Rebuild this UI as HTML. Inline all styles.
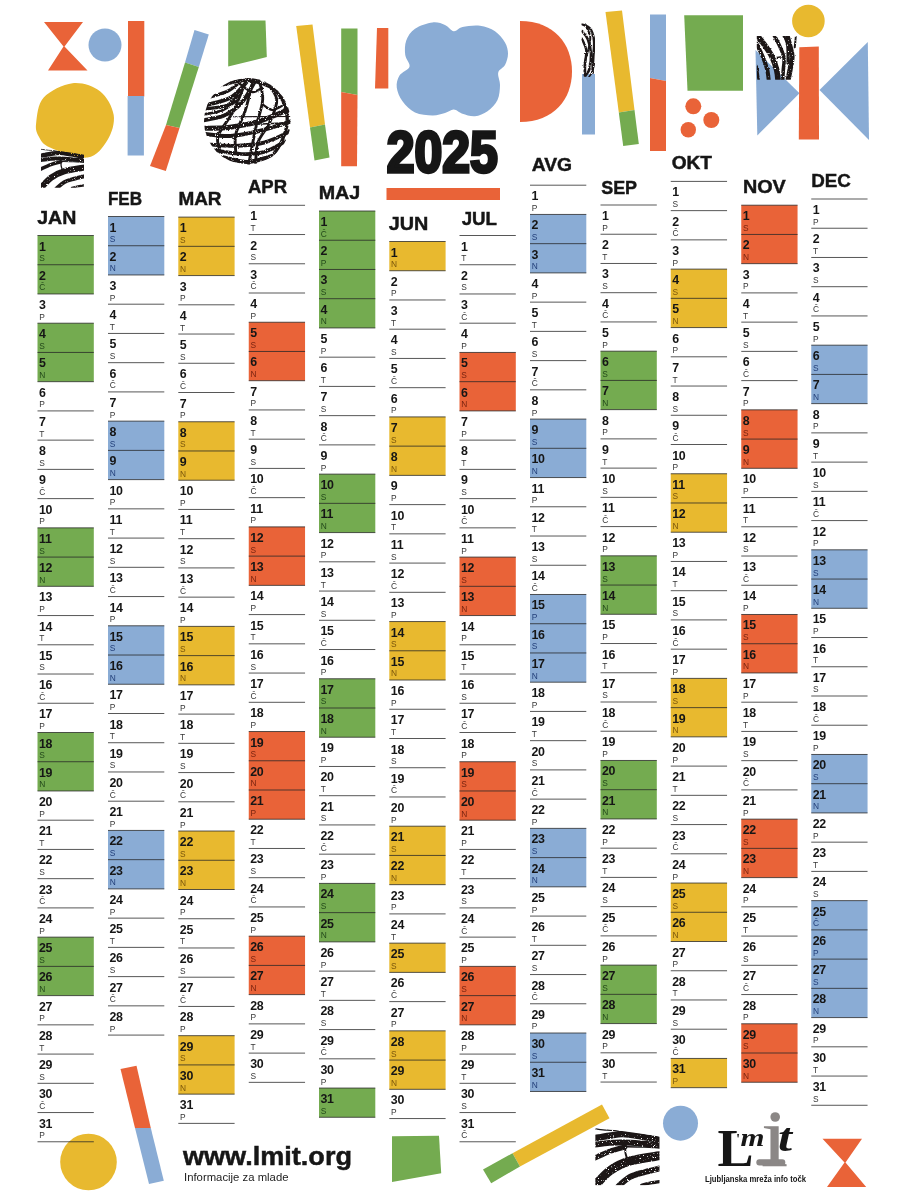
<!DOCTYPE html>
<html lang="sl">
<head>
<meta charset="utf-8">
<title>Koledar 2025 – L'MIT</title>
<style>
html,body{margin:0;padding:0;background:#fff;}
body{width:900px;height:1197px;overflow:hidden;font-family:"Liberation Sans",sans-serif;}
svg{display:block;position:absolute;left:0;top:0;}
text{font-family:"Liberation Sans",sans-serif;fill:#161616;}
.mn{font-weight:700;font-size:18.4px;stroke:#161616;stroke-width:.45px;}
.dn{font-weight:700;font-size:12.4px;letter-spacing:-0.2px;}
.wd{font-weight:400;font-size:8.4px;fill:#1a1a1a;fill-opacity:.9;}
.wo{fill:#7a2410;fill-opacity:1}.wb{fill:#24407a;fill-opacity:1}.wg{fill:#23491a;fill-opacity:1}.wy{fill:#7a560c;fill-opacity:1}
.ln{stroke:#262626;stroke-width:0.78;fill:none;}
.yr{font-weight:700;font-size:60px;}
.or{fill:#E96338}.bl{fill:#8AACD5}.gr{fill:#74AB50}.ye{fill:#E8B92F}
.sc{fill:none;stroke:#1b1718;stroke-linecap:round;stroke-linejoin:round;}
</style>
</head>
<body>
<svg width="900" height="1197" viewBox="0 0 900 1197">
<rect width="900" height="1197" fill="#fff"/>

<g id="deco-top">
<!-- hourglass -->
<path class="or" d="M44 22H83L64.5 46.5L87.5 70.5H48L63.5 46.5Z"/>
<circle class="bl" cx="105" cy="45" r="16.5"/>
<!-- vertical orange/blue bar -->
<rect class="or" x="128" y="21" width="16.3" height="75.5"/>
<rect class="bl" x="127.6" y="96" width="16.3" height="59.5"/>
<!-- yellow blob -->
<path class="ye" d="M36.2 122.5C37.07 116.08 37.65 104.05 43.7 97.5C49.75 90.95 63.12 84.25 72.5 83.2C81.88 82.15 93.13 85.9 100 91.2C106.87 96.5 112.45 106.87 113.7 115C114.95 123.13 111.87 132.92 107.5 140C103.13 147.08 97.08 156.25 87.5 157.5C77.92 158.75 58.17 151.08 50 147.5C41.83 143.92 40.8 140.17 38.5 136C36.2 131.83 35.33 128.92 36.2 122.5Z"/>
<!-- diagonal blue/green/orange bar -->
<path class="bl" d="M194.5 30L208.8 34.5L198.8 67L185 62.5Z"/>
<path class="gr" d="M185 62.5L198.8 67L179.5 128L166 125Z"/>
<path class="or" d="M166 125L179.5 128L165.8 171L150 166Z"/>
<!-- green quad -->
<path class="gr" d="M228.2 20.5H265.5L266.8 57L228.2 66.5Z"/>
<!-- yellow/green bar -->
<path class="ye" d="M296.2 26L312.5 24.5L325 124.5L310 127.5Z"/>
<path class="gr" d="M310 127.5L325 124.5L329.5 157.5L314.5 160.5Z"/>
<!-- green/orange vertical bar -->
<path class="gr" d="M341.2 28.5H357.5V95L341.2 92Z"/>
<path class="or" d="M341.2 92L357.5 95L357 166.3H341.2Z"/>
<!-- small orange bar -->
<path class="or" d="M377 28H388.3V88.5H375Z"/>
<!-- blue cloud -->
<path class="bl" d="M432.5 22.5C437.5 21.88 441.46 23.54 445 25C448.54 26.46 450.83 30.92 453.75 31.25C456.67 31.58 458.12 27.92 462.5 27C466.88 26.08 474.58 25.04 480 25.75C485.42 26.46 490.83 28.46 495 31.25C499.17 34.04 502.83 38.75 505 42.5C507.17 46.25 508 50 508 53.75C508 57.5 506.62 61.88 505 65C503.38 68.12 499.08 69.17 498.25 72.5C497.42 75.83 500.12 80.42 500 85C499.88 89.58 499.58 95.62 497.5 100C495.42 104.38 491.25 108.54 487.5 111.25C483.75 113.96 479.17 115.83 475 116.25C470.83 116.67 466.04 114.88 462.5 113.75C458.96 112.62 456.67 109.62 453.75 109.5C450.83 109.38 448.54 112 445 113C441.46 114 437.5 115.58 432.5 115.5C427.5 115.42 420 114.88 415 112.5C410 110.12 405.54 105.42 402.5 101.25C399.46 97.08 397.25 91.79 396.75 87.5C396.25 83.21 397.38 78.96 399.5 75.5C401.62 72.04 408.54 70.17 409.5 66.75C410.46 63.33 405.79 59.38 405.25 55C404.71 50.62 404.62 44.88 406.25 40.5C407.88 36.12 410.62 31.75 415 28.75C419.38 25.75 427.5 23.12 432.5 22.5Z"/>
<!-- orange D -->
<path class="or" d="M520 21C554 21 572 44 572 71.5C572 99 554 122 520 122Z"/>
<!-- scribble + blue bar -->
<rect class="bl" x="582" y="74" width="13" height="60.5"/>
<!-- yellow/green bar -->
<path class="ye" d="M605.5 12L622 10.5L634.5 110L618.8 112.5Z"/>
<path class="gr" d="M618.8 112.5L634.5 110L638.8 144L623.2 146Z"/>
<!-- blue/orange bar -->
<path class="bl" d="M650 14.5H666V81L650 78Z"/>
<path class="or" d="M650 78L666 81V151H650Z"/>
<!-- green square -->
<path class="gr" d="M684.2 15.2H743V90.8H687.5Z"/>
<!-- three dots -->
<circle class="or" cx="693.3" cy="106.3" r="8"/><circle class="or" cx="711.3" cy="120" r="8"/><circle class="or" cx="688.3" cy="129.8" r="7.7"/>
<!-- bow tie -->
<path class="bl" d="M755.5 50L799.5 93.3L757.3 135.5Z"/>
<path class="bl" d="M867.8 42L819.5 90L869 140Z"/>
<path class="or" d="M799.3 47.2L818.8 46.4L819 139.5H798.8Z"/>
<circle class="ye" cx="808.4" cy="21" r="16.3"/>
</g>

<g id="deco-bottom">
<circle class="ye" cx="88.5" cy="1162" r="28.3"/>
<path class="or" d="M120.5 1069L136.5 1065.8L150.8 1128H135Z"/>
<path class="bl" d="M135 1128H150.8L163.8 1180.8L149 1184Z"/>
<path class="gr" d="M392 1136.2L439 1135.8L441.2 1173.2L392 1182Z"/>
<path class="ye" d="M602 1104.5L609.5 1118.2L520 1166.5L512.5 1153.2Z"/>
<path class="gr" d="M512.5 1153.2L520 1166.5L491.2 1183.2L483 1169.5Z"/>
<circle class="bl" cx="680.5" cy="1123.2" r="17.5"/>
<path class="or" d="M822.5 1138.8H862L845.5 1162.5L866.2 1187H827L844.5 1162.5Z"/>
</g>

<defs><filter id="rough" x="-5%" y="-5%" width="110%" height="110%"><feTurbulence type="fractalNoise" baseFrequency="0.6" numOctaves="2" seed="3" result="n"/><feDisplacementMap in="SourceGraphic" in2="n" scale="2.2" xChannelSelector="R" yChannelSelector="G" result="d"/><feColorMatrix in="n" type="matrix" values="0 0 0 0 0 0 0 0 0 0 0 0 0 0 0 0 0 0 -9 6.9" result="h"/><feComposite in="d" in2="h" operator="in"/></filter><clipPath id="cpBall"><circle cx="247.3" cy="121.3" r="43.3"/></clipPath><clipPath id="cpSq"><path d="M0 0L100 14V89.5H0Z"/></clipPath><clipPath id="cpS3"><rect x="581.5" y="23.5" width="14" height="53.5"/></clipPath><clipPath id="cpS4"><rect x="756.8" y="36" width="40" height="43.8"/></clipPath></defs>
<g class="sc" clip-path="url(#cpBall)"><g filter="url(#rough)"><path d="M206.7 105C210.58 103.83 223.78 101.3 230 98C236.22 94.7 240.7 88.7 244 85.2C247.3 81.7 248.83 78.37 249.8 77" stroke-width="4"/><path d="M202 120.5C205.7 119.67 217.58 118.47 224.2 115.5C230.82 112.53 236.45 108.62 241.7 102.7C246.95 96.78 253.37 83.78 255.7 80" stroke-width="4"/><path d="M205 109C208.78 108.33 221.98 107.62 227.7 105C233.42 102.38 237.37 95.25 239.3 93.3" stroke-width="3.2"/><path d="M210 97C213 96 223 93.5 228 91C233 88.5 238 83.5 240 82" stroke-width="3.2"/><path d="M203 114.5C206.17 113.83 216.5 112.75 222 110.5C227.5 108.25 233.67 102.58 236 101" stroke-width="2.8"/><path d="M202 128.3C206.67 128.12 220.47 128.37 230 127.2C239.53 126.03 248.87 124.5 259.2 121.3C269.53 118.1 286.53 110.22 292 108" stroke-width="4.96"/><path d="M202 133.5C206.67 133.92 220.47 136.42 230 136C239.53 135.58 248.87 133.5 259.2 131C269.53 128.5 286.53 122.67 292 121" stroke-width="4"/><path d="M205 144.2C210.13 144.47 225.8 146.12 235.8 145.8C245.8 145.48 255.8 144.77 265 142.3C274.2 139.83 286.67 132.88 291 131" stroke-width="3.84"/><path d="M212 150C216.95 150.67 232.87 153.72 241.7 154C250.53 154.28 257.78 153.78 265 151.7C272.22 149.62 281.67 143.2 285 141.5" stroke-width="3.68"/><path d="M222 157C226.25 157.83 239.17 162.17 247.5 162C255.83 161.83 267.92 157 272 156" stroke-width="4"/><path d="M233.5 116.7L292 116.5" stroke-width="1.12"/><path d="M247.5 124.8L292 122.5" stroke-width="1.44"/><path d="M258 77C258.78 80.7 263.08 90.65 262.7 99.2C262.32 107.75 258.03 117.5 255.7 128.3C253.37 139.1 249.87 158.05 248.7 164" stroke-width="2.88"/><path d="M265 80C266.95 83.2 275.92 92.12 276.7 99.2C277.48 106.28 272.82 115.32 269.7 122.5C266.58 129.68 260.33 135.55 258 142.3C255.67 149.05 256.08 159.55 255.7 163" stroke-width="2.88"/><path d="M270.8 83C272.95 86.28 280.97 96.12 283.7 102.7C286.43 109.28 287.6 115.9 287.2 122.5C286.8 129.1 284.03 136.38 281.3 142.3C278.57 148.22 272.55 155.38 270.8 158" stroke-width="3.36"/><path d="M253.3 79C251.95 84.3 248.12 101.6 245.2 110.8C242.28 120 237.37 127.17 235.8 134.2C234.23 141.23 235.8 149.87 235.8 153" stroke-width="2.88"/><path d="M246.3 80C244.17 85.13 238.17 101.58 233.5 110.8C228.83 120.02 220.63 128.77 218.3 135.3C215.97 141.83 219.3 147.55 219.5 150" stroke-width="2.88"/><path d="M219 86C222.78 85.08 234.82 81.03 241.7 80.5C248.58 79.97 254.08 81.05 260.3 82.8C266.52 84.55 275.88 89.63 279 91" stroke-width="3.36"/><path d="M276 92C278.17 93.83 286.33 99.67 289 103C291.67 106.33 291.5 110.5 292 112" stroke-width="2.88"/><path d="M240 84C242 85.33 248.33 91.33 252 92C255.67 92.67 260.33 88.67 262 88" stroke-width="2.4"/><path d="M262 104C263.67 105 268.67 109.67 272 110C275.33 110.33 280.33 106.67 282 106" stroke-width="2.08"/></g></g>
<g class="sc" transform="translate(40.9 148.2) scale(0.431 0.443)"><g clip-path="url(#cpSq)"><g filter="url(#rough)"><path d="M0 2.3C3 2.67 12 3.98 18 4.5C24 5.02 33 5.25 36 5.4" stroke-width="2"/><path d="M-2 17C2 16.33 14.5 14.08 22 13C29.5 11.92 35 10.33 43 10.5C51 10.67 60.17 12.42 70 14C79.83 15.58 96.67 19 102 20" stroke-width="10"/><path d="M-2 27C2 26.5 14.5 24.58 22 24C29.5 23.42 35 23.33 43 23.5C51 23.67 60.17 24.25 70 25C79.83 25.75 96.67 27.5 102 28" stroke-width="9"/><path d="M-2 48C2.17 46.17 15 39.92 23 37C31 34.08 42.17 31.58 46 30.5" stroke-width="8"/><path d="M44 30C49.17 30.08 65.33 30.17 75 30.5C84.67 30.83 97.5 31.75 102 32" stroke-width="2.5"/><path d="M46.5 30C46.58 31.67 46.48 36.83 47 40C47.52 43.17 49.17 47.5 49.6 49" stroke-width="3"/><path d="M-1 91C3 87 13.83 73.5 23 67C32.17 60.5 40.83 55.92 54 52C67.17 48.08 94 44.92 102 43.5" stroke-width="14"/><path d="M36 91C39 88.62 47.08 80.37 54 76.7C60.92 73.03 69.83 71.2 77.5 69C85.17 66.8 96.25 64.42 100 63.5" stroke-width="9"/><path d="M72 89.5C74 89 79.33 87.42 84 86.5C88.67 85.58 97.33 84.42 100 84" stroke-width="5"/></g></g></g>
<g class="sc" transform="translate(595.2 1127.3) scale(0.645 0.647)"><g clip-path="url(#cpSq)"><g filter="url(#rough)"><path d="M0 2.3C3 2.67 12 3.98 18 4.5C24 5.02 33 5.25 36 5.4" stroke-width="2"/><path d="M-2 17C2 16.33 14.5 14.08 22 13C29.5 11.92 35 10.33 43 10.5C51 10.67 60.17 12.42 70 14C79.83 15.58 96.67 19 102 20" stroke-width="10"/><path d="M-2 27C2 26.5 14.5 24.58 22 24C29.5 23.42 35 23.33 43 23.5C51 23.67 60.17 24.25 70 25C79.83 25.75 96.67 27.5 102 28" stroke-width="9"/><path d="M-2 48C2.17 46.17 15 39.92 23 37C31 34.08 42.17 31.58 46 30.5" stroke-width="8"/><path d="M44 30C49.17 30.08 65.33 30.17 75 30.5C84.67 30.83 97.5 31.75 102 32" stroke-width="2.5"/><path d="M46.5 30C46.58 31.67 46.48 36.83 47 40C47.52 43.17 49.17 47.5 49.6 49" stroke-width="3"/><path d="M-1 91C3 87 13.83 73.5 23 67C32.17 60.5 40.83 55.92 54 52C67.17 48.08 94 44.92 102 43.5" stroke-width="14"/><path d="M36 91C39 88.62 47.08 80.37 54 76.7C60.92 73.03 69.83 71.2 77.5 69C85.17 66.8 96.25 64.42 100 63.5" stroke-width="9"/><path d="M72 89.5C74 89 79.33 87.42 84 86.5C88.67 85.58 97.33 84.42 100 84" stroke-width="5"/></g></g></g>
<g class="sc" clip-path="url(#cpS3)"><g filter="url(#rough)"><path d="M582 24.2C583.37 24.95 588.18 25.88 590.2 28.7C592.22 31.52 593.58 36.43 594.1 41.1C594.62 45.77 593.57 51.52 593.3 56.7C593.03 61.88 592.63 69.62 592.5 72.2" stroke-width="2.6"/><path d="M582 31C582.98 32.42 586.4 35.75 587.9 39.5C589.4 43.25 590.75 48.57 591 53.5C591.25 58.43 590.3 65.43 589.4 69.1C588.5 72.77 586.23 74.43 585.6 75.5" stroke-width="2.6"/><path d="M582 38.8C582.72 40.73 585.83 46.13 586.3 50.4C586.77 54.67 585.05 60.22 584.8 64.4C584.55 68.58 584.8 73.65 584.8 75.5" stroke-width="2.4"/><path d="M585.6 24.8C586.37 26.73 589.68 32.52 590.2 36.4C590.72 40.28 589.47 44.2 588.7 48.1C587.93 52 586.18 55.78 585.6 59.8C585.02 63.82 585.27 70.13 585.2 72.2" stroke-width="2"/><path d="M594.3 63.7C594 64.98 593.43 69.1 592.5 71.4C591.57 73.7 589.33 76.48 588.7 77.5" stroke-width="1.6"/></g></g>
<g class="sc" clip-path="url(#cpS4)"><g filter="url(#rough)"><path d="M755 33C756.38 34.72 760.47 39.35 763.3 43.3C766.13 47.25 769.77 52.25 772 56.7C774.23 61.15 775.67 65.78 776.7 70C777.73 74.22 777.95 80 778.2 82" stroke-width="5.6"/><path d="M756.5 43.5C757.63 45.92 761.5 53.58 763.3 58C765.1 62.42 766.37 66 767.3 70C768.23 74 768.63 80 768.9 82" stroke-width="4"/><path d="M756.7 66L758.9 82" stroke-width="2.5"/><path d="M773 33C774.17 35.28 778.17 42.53 780 46.7C781.83 50.87 783.45 54.12 784 58C784.55 61.88 783.55 66 783.3 70C783.05 74 782.63 80 782.5 82" stroke-width="3.6"/><path d="M781.8 33C782.72 34.72 786.27 38.25 787.3 43.3C788.33 48.35 787.88 59.97 788 63.3" stroke-width="3"/><path d="M786.3 33C786.92 35.28 789.05 42.75 790 46.7C790.95 50.65 792 52.82 792 56.7C792 60.58 790.73 65.78 790 70C789.27 74.22 788 80 787.6 82" stroke-width="5.2"/><path d="M796.3 33L794.7 47.3" stroke-width="2"/><path d="M775.3 57.7L782 56.7" stroke-width="1.5"/></g></g>
<g id="title">
<text class="yr" x="386.8" y="172.3" textLength="111" lengthAdjust="spacingAndGlyphs" stroke="#161616" stroke-width="3.4" stroke-linejoin="miter" style="font-size:56.8px">2025</text>
<rect class="or" x="386.5" y="188" width="113.5" height="12"/>
</g>

<g class="month" id="m1">
<text class="mn" x="37.2" y="223.75" textLength="39.1" lengthAdjust="spacingAndGlyphs">JAN</text>
<rect x="37.5" y="235.5" width="56.3" height="58.47" fill="#74AB50"/>
<rect x="37.5" y="323.2" width="56.3" height="58.47" fill="#74AB50"/>
<rect x="37.5" y="527.85" width="56.3" height="58.47" fill="#74AB50"/>
<rect x="37.5" y="732.5" width="56.3" height="58.47" fill="#74AB50"/>
<rect x="37.5" y="937.14" width="56.3" height="58.47" fill="#74AB50"/>
<path class="ln" d="M37.5 235.5h56.3M37.5 264.74h56.3M37.5 293.97h56.3M37.5 323.2h56.3M37.5 352.44h56.3M37.5 381.68h56.3M37.5 410.91h56.3M37.5 440.14h56.3M37.5 469.38h56.3M37.5 498.62h56.3M37.5 527.85h56.3M37.5 557.09h56.3M37.5 586.32h56.3M37.5 615.56h56.3M37.5 644.79h56.3M37.5 674.02h56.3M37.5 703.26h56.3M37.5 732.5h56.3M37.5 761.73h56.3M37.5 790.97h56.3M37.5 820.2h56.3M37.5 849.43h56.3M37.5 878.67h56.3M37.5 907.9h56.3M37.5 937.14h56.3M37.5 966.38h56.3M37.5 995.61h56.3M37.5 1024.85h56.3M37.5 1054.08h56.3M37.5 1083.32h56.3M37.5 1112.55h56.3M37.5 1141.78h56.3"/>
<text class="dn" x="38.9" y="250.5">1</text><text class="wd wg" x="39.2" y="261.2">S</text>
<text class="dn" x="38.9" y="279.74">2</text><text class="wd wg" x="39.2" y="290.44">Č</text>
<text class="dn" x="38.9" y="308.97">3</text><text class="wd" x="39.2" y="319.67">P</text>
<text class="dn" x="38.9" y="338.2">4</text><text class="wd wg" x="39.2" y="348.9">S</text>
<text class="dn" x="38.9" y="367.44">5</text><text class="wd wg" x="39.2" y="378.14">N</text>
<text class="dn" x="38.9" y="396.68">6</text><text class="wd" x="39.2" y="407.38">P</text>
<text class="dn" x="38.9" y="425.91">7</text><text class="wd" x="39.2" y="436.61">T</text>
<text class="dn" x="38.9" y="455.14">8</text><text class="wd" x="39.2" y="465.84">S</text>
<text class="dn" x="38.9" y="484.38">9</text><text class="wd" x="39.2" y="495.08">Č</text>
<text class="dn" x="38.9" y="513.62">10</text><text class="wd" x="39.2" y="524.32">P</text>
<text class="dn" x="38.9" y="542.85">11</text><text class="wd wg" x="39.2" y="553.55">S</text>
<text class="dn" x="38.9" y="572.09">12</text><text class="wd wg" x="39.2" y="582.79">N</text>
<text class="dn" x="38.9" y="601.32">13</text><text class="wd" x="39.2" y="612.02">P</text>
<text class="dn" x="38.9" y="630.56">14</text><text class="wd" x="39.2" y="641.26">T</text>
<text class="dn" x="38.9" y="659.79">15</text><text class="wd" x="39.2" y="670.49">S</text>
<text class="dn" x="38.9" y="689.02">16</text><text class="wd" x="39.2" y="699.73">Č</text>
<text class="dn" x="38.9" y="718.26">17</text><text class="wd" x="39.2" y="728.96">P</text>
<text class="dn" x="38.9" y="747.5">18</text><text class="wd wg" x="39.2" y="758.2">S</text>
<text class="dn" x="38.9" y="776.73">19</text><text class="wd wg" x="39.2" y="787.43">N</text>
<text class="dn" x="38.9" y="805.97">20</text><text class="wd" x="39.2" y="816.67">P</text>
<text class="dn" x="38.9" y="835.2">21</text><text class="wd" x="39.2" y="845.9">T</text>
<text class="dn" x="38.9" y="864.43">22</text><text class="wd" x="39.2" y="875.13">S</text>
<text class="dn" x="38.9" y="893.67">23</text><text class="wd" x="39.2" y="904.37">Č</text>
<text class="dn" x="38.9" y="922.9">24</text><text class="wd" x="39.2" y="933.61">P</text>
<text class="dn" x="38.9" y="952.14">25</text><text class="wd wg" x="39.2" y="962.84">S</text>
<text class="dn" x="38.9" y="981.38">26</text><text class="wd wg" x="39.2" y="992.08">N</text>
<text class="dn" x="38.9" y="1010.61">27</text><text class="wd" x="39.2" y="1021.31">P</text>
<text class="dn" x="38.9" y="1039.85">28</text><text class="wd" x="39.2" y="1050.55">T</text>
<text class="dn" x="38.9" y="1069.08">29</text><text class="wd" x="39.2" y="1079.78">S</text>
<text class="dn" x="38.9" y="1098.32">30</text><text class="wd" x="39.2" y="1109.02">Č</text>
<text class="dn" x="38.9" y="1127.55">31</text><text class="wd" x="39.2" y="1138.25">P</text>
</g>
<g class="month" id="m2">
<text class="mn" x="107.95" y="204.5" textLength="34.1" lengthAdjust="spacingAndGlyphs">FEB</text>
<rect x="108" y="216.5" width="56.3" height="58.47" fill="#8AACD5"/>
<rect x="108" y="421.14" width="56.3" height="58.47" fill="#8AACD5"/>
<rect x="108" y="625.79" width="56.3" height="58.47" fill="#8AACD5"/>
<rect x="108" y="830.43" width="56.3" height="58.47" fill="#8AACD5"/>
<path class="ln" d="M108 216.5h56.3M108 245.74h56.3M108 274.97h56.3M108 304.2h56.3M108 333.44h56.3M108 362.68h56.3M108 391.91h56.3M108 421.14h56.3M108 450.38h56.3M108 479.62h56.3M108 508.85h56.3M108 538.09h56.3M108 567.32h56.3M108 596.56h56.3M108 625.79h56.3M108 655.02h56.3M108 684.26h56.3M108 713.5h56.3M108 742.73h56.3M108 771.97h56.3M108 801.2h56.3M108 830.43h56.3M108 859.67h56.3M108 888.9h56.3M108 918.14h56.3M108 947.38h56.3M108 976.61h56.3M108 1005.85h56.3M108 1035.08h56.3"/>
<text class="dn" x="109.4" y="231.5">1</text><text class="wd wb" x="109.7" y="242.2">S</text>
<text class="dn" x="109.4" y="260.74">2</text><text class="wd wb" x="109.7" y="271.44">N</text>
<text class="dn" x="109.4" y="289.97">3</text><text class="wd" x="109.7" y="300.67">P</text>
<text class="dn" x="109.4" y="319.2">4</text><text class="wd" x="109.7" y="329.9">T</text>
<text class="dn" x="109.4" y="348.44">5</text><text class="wd" x="109.7" y="359.14">S</text>
<text class="dn" x="109.4" y="377.68">6</text><text class="wd" x="109.7" y="388.38">Č</text>
<text class="dn" x="109.4" y="406.91">7</text><text class="wd" x="109.7" y="417.61">P</text>
<text class="dn" x="109.4" y="436.14">8</text><text class="wd wb" x="109.7" y="446.84">S</text>
<text class="dn" x="109.4" y="465.38">9</text><text class="wd wb" x="109.7" y="476.08">N</text>
<text class="dn" x="109.4" y="494.62">10</text><text class="wd" x="109.7" y="505.31">P</text>
<text class="dn" x="109.4" y="523.85">11</text><text class="wd" x="109.7" y="534.55">T</text>
<text class="dn" x="109.4" y="553.09">12</text><text class="wd" x="109.7" y="563.79">S</text>
<text class="dn" x="109.4" y="582.32">13</text><text class="wd" x="109.7" y="593.02">Č</text>
<text class="dn" x="109.4" y="611.56">14</text><text class="wd" x="109.7" y="622.26">P</text>
<text class="dn" x="109.4" y="640.79">15</text><text class="wd wb" x="109.7" y="651.49">S</text>
<text class="dn" x="109.4" y="670.02">16</text><text class="wd wb" x="109.7" y="680.73">N</text>
<text class="dn" x="109.4" y="699.26">17</text><text class="wd" x="109.7" y="709.96">P</text>
<text class="dn" x="109.4" y="728.5">18</text><text class="wd" x="109.7" y="739.2">T</text>
<text class="dn" x="109.4" y="757.73">19</text><text class="wd" x="109.7" y="768.43">S</text>
<text class="dn" x="109.4" y="786.97">20</text><text class="wd" x="109.7" y="797.67">Č</text>
<text class="dn" x="109.4" y="816.2">21</text><text class="wd" x="109.7" y="826.9">P</text>
<text class="dn" x="109.4" y="845.43">22</text><text class="wd wb" x="109.7" y="856.13">S</text>
<text class="dn" x="109.4" y="874.67">23</text><text class="wd wb" x="109.7" y="885.37">N</text>
<text class="dn" x="109.4" y="903.9">24</text><text class="wd" x="109.7" y="914.61">P</text>
<text class="dn" x="109.4" y="933.14">25</text><text class="wd" x="109.7" y="943.84">T</text>
<text class="dn" x="109.4" y="962.38">26</text><text class="wd" x="109.7" y="973.08">S</text>
<text class="dn" x="109.4" y="991.61">27</text><text class="wd" x="109.7" y="1002.31">Č</text>
<text class="dn" x="109.4" y="1020.85">28</text><text class="wd" x="109.7" y="1031.55">P</text>
</g>
<g class="month" id="m3">
<text class="mn" x="178.45" y="205" textLength="43.1" lengthAdjust="spacingAndGlyphs">MAR</text>
<rect x="178.3" y="217.1" width="56.3" height="58.47" fill="#E8B92F"/>
<rect x="178.3" y="421.75" width="56.3" height="58.47" fill="#E8B92F"/>
<rect x="178.3" y="626.39" width="56.3" height="58.47" fill="#E8B92F"/>
<rect x="178.3" y="831.03" width="56.3" height="58.47" fill="#E8B92F"/>
<rect x="178.3" y="1035.68" width="56.3" height="58.47" fill="#E8B92F"/>
<path class="ln" d="M178.3 217.1h56.3M178.3 246.33h56.3M178.3 275.57h56.3M178.3 304.81h56.3M178.3 334.04h56.3M178.3 363.27h56.3M178.3 392.51h56.3M178.3 421.75h56.3M178.3 450.98h56.3M178.3 480.22h56.3M178.3 509.45h56.3M178.3 538.68h56.3M178.3 567.92h56.3M178.3 597.15h56.3M178.3 626.39h56.3M178.3 655.62h56.3M178.3 684.86h56.3M178.3 714.1h56.3M178.3 743.33h56.3M178.3 772.57h56.3M178.3 801.8h56.3M178.3 831.03h56.3M178.3 860.27h56.3M178.3 889.5h56.3M178.3 918.74h56.3M178.3 947.98h56.3M178.3 977.21h56.3M178.3 1006.45h56.3M178.3 1035.68h56.3M178.3 1064.91h56.3M178.3 1094.15h56.3M178.3 1123.38h56.3"/>
<text class="dn" x="179.7" y="232.1">1</text><text class="wd wy" x="180" y="242.8">S</text>
<text class="dn" x="179.7" y="261.33">2</text><text class="wd wy" x="180" y="272.03">N</text>
<text class="dn" x="179.7" y="290.57">3</text><text class="wd" x="180" y="301.27">P</text>
<text class="dn" x="179.7" y="319.81">4</text><text class="wd" x="180" y="330.5">T</text>
<text class="dn" x="179.7" y="349.04">5</text><text class="wd" x="180" y="359.74">S</text>
<text class="dn" x="179.7" y="378.27">6</text><text class="wd" x="180" y="388.97">Č</text>
<text class="dn" x="179.7" y="407.51">7</text><text class="wd" x="180" y="418.21">P</text>
<text class="dn" x="179.7" y="436.75">8</text><text class="wd wy" x="180" y="447.44">S</text>
<text class="dn" x="179.7" y="465.98">9</text><text class="wd wy" x="180" y="476.68">N</text>
<text class="dn" x="179.7" y="495.22">10</text><text class="wd" x="180" y="505.92">P</text>
<text class="dn" x="179.7" y="524.45">11</text><text class="wd" x="180" y="535.15">T</text>
<text class="dn" x="179.7" y="553.68">12</text><text class="wd" x="180" y="564.38">S</text>
<text class="dn" x="179.7" y="582.92">13</text><text class="wd" x="180" y="593.62">Č</text>
<text class="dn" x="179.7" y="612.15">14</text><text class="wd" x="180" y="622.86">P</text>
<text class="dn" x="179.7" y="641.39">15</text><text class="wd wy" x="180" y="652.09">S</text>
<text class="dn" x="179.7" y="670.62">16</text><text class="wd wy" x="180" y="681.33">N</text>
<text class="dn" x="179.7" y="699.86">17</text><text class="wd" x="180" y="710.56">P</text>
<text class="dn" x="179.7" y="729.1">18</text><text class="wd" x="180" y="739.8">T</text>
<text class="dn" x="179.7" y="758.33">19</text><text class="wd" x="180" y="769.03">S</text>
<text class="dn" x="179.7" y="787.57">20</text><text class="wd" x="180" y="798.27">Č</text>
<text class="dn" x="179.7" y="816.8">21</text><text class="wd" x="180" y="827.5">P</text>
<text class="dn" x="179.7" y="846.03">22</text><text class="wd wy" x="180" y="856.74">S</text>
<text class="dn" x="179.7" y="875.27">23</text><text class="wd wy" x="180" y="885.97">N</text>
<text class="dn" x="179.7" y="904.5">24</text><text class="wd" x="180" y="915.21">P</text>
<text class="dn" x="179.7" y="933.74">25</text><text class="wd" x="180" y="944.44">T</text>
<text class="dn" x="179.7" y="962.98">26</text><text class="wd" x="180" y="973.68">S</text>
<text class="dn" x="179.7" y="992.21">27</text><text class="wd" x="180" y="1002.91">Č</text>
<text class="dn" x="179.7" y="1021.45">28</text><text class="wd" x="180" y="1032.14">P</text>
<text class="dn" x="179.7" y="1050.68">29</text><text class="wd wy" x="180" y="1061.38">S</text>
<text class="dn" x="179.7" y="1079.91">30</text><text class="wd wy" x="180" y="1090.62">N</text>
<text class="dn" x="179.7" y="1109.15">31</text><text class="wd" x="180" y="1119.85">P</text>
</g>
<g class="month" id="m4">
<text class="mn" x="247.95" y="193.2" textLength="39.1" lengthAdjust="spacingAndGlyphs">APR</text>
<rect x="248.75" y="322.24" width="56.3" height="58.47" fill="#E96338"/>
<rect x="248.75" y="526.88" width="56.3" height="58.47" fill="#E96338"/>
<rect x="248.75" y="731.53" width="56.3" height="87.7" fill="#E96338"/>
<rect x="248.75" y="936.17" width="56.3" height="58.47" fill="#E96338"/>
<path class="ln" d="M248.75 205.3h56.3M248.75 234.54h56.3M248.75 263.77h56.3M248.75 293h56.3M248.75 322.24h56.3M248.75 351.48h56.3M248.75 380.71h56.3M248.75 409.94h56.3M248.75 439.18h56.3M248.75 468.42h56.3M248.75 497.65h56.3M248.75 526.88h56.3M248.75 556.12h56.3M248.75 585.36h56.3M248.75 614.59h56.3M248.75 643.83h56.3M248.75 673.06h56.3M248.75 702.3h56.3M248.75 731.53h56.3M248.75 760.77h56.3M248.75 790h56.3M248.75 819.23h56.3M248.75 848.47h56.3M248.75 877.7h56.3M248.75 906.94h56.3M248.75 936.17h56.3M248.75 965.41h56.3M248.75 994.64h56.3M248.75 1023.88h56.3M248.75 1053.12h56.3M248.75 1082.35h56.3"/>
<text class="dn" x="250.15" y="220.3">1</text><text class="wd" x="250.45" y="231">T</text>
<text class="dn" x="250.15" y="249.54">2</text><text class="wd" x="250.45" y="260.24">S</text>
<text class="dn" x="250.15" y="278.77">3</text><text class="wd" x="250.45" y="289.47">Č</text>
<text class="dn" x="250.15" y="308">4</text><text class="wd" x="250.45" y="318.7">P</text>
<text class="dn" x="250.15" y="337.24">5</text><text class="wd wo" x="250.45" y="347.94">S</text>
<text class="dn" x="250.15" y="366.48">6</text><text class="wd wo" x="250.45" y="377.18">N</text>
<text class="dn" x="250.15" y="395.71">7</text><text class="wd" x="250.45" y="406.41">P</text>
<text class="dn" x="250.15" y="424.94">8</text><text class="wd" x="250.45" y="435.64">T</text>
<text class="dn" x="250.15" y="454.18">9</text><text class="wd" x="250.45" y="464.88">S</text>
<text class="dn" x="250.15" y="483.42">10</text><text class="wd" x="250.45" y="494.12">Č</text>
<text class="dn" x="250.15" y="512.65">11</text><text class="wd" x="250.45" y="523.35">P</text>
<text class="dn" x="250.15" y="541.88">12</text><text class="wd wo" x="250.45" y="552.59">S</text>
<text class="dn" x="250.15" y="571.12">13</text><text class="wd wo" x="250.45" y="581.82">N</text>
<text class="dn" x="250.15" y="600.36">14</text><text class="wd" x="250.45" y="611.06">P</text>
<text class="dn" x="250.15" y="629.59">15</text><text class="wd" x="250.45" y="640.29">T</text>
<text class="dn" x="250.15" y="658.83">16</text><text class="wd" x="250.45" y="669.53">S</text>
<text class="dn" x="250.15" y="688.06">17</text><text class="wd" x="250.45" y="698.76">Č</text>
<text class="dn" x="250.15" y="717.3">18</text><text class="wd" x="250.45" y="728">P</text>
<text class="dn" x="250.15" y="746.53">19</text><text class="wd wo" x="250.45" y="757.23">S</text>
<text class="dn" x="250.15" y="775.77">20</text><text class="wd wo" x="250.45" y="786.47">N</text>
<text class="dn" x="250.15" y="805">21</text><text class="wd wo" x="250.45" y="815.7">P</text>
<text class="dn" x="250.15" y="834.23">22</text><text class="wd" x="250.45" y="844.93">T</text>
<text class="dn" x="250.15" y="863.47">23</text><text class="wd" x="250.45" y="874.17">S</text>
<text class="dn" x="250.15" y="892.7">24</text><text class="wd" x="250.45" y="903.4">Č</text>
<text class="dn" x="250.15" y="921.94">25</text><text class="wd" x="250.45" y="932.64">P</text>
<text class="dn" x="250.15" y="951.17">26</text><text class="wd wo" x="250.45" y="961.88">S</text>
<text class="dn" x="250.15" y="980.41">27</text><text class="wd wo" x="250.45" y="991.11">N</text>
<text class="dn" x="250.15" y="1009.64">28</text><text class="wd" x="250.45" y="1020.35">P</text>
<text class="dn" x="250.15" y="1038.88">29</text><text class="wd" x="250.45" y="1049.58">T</text>
<text class="dn" x="250.15" y="1068.12">30</text><text class="wd" x="250.45" y="1078.82">S</text>
</g>
<g class="month" id="m5">
<text class="mn" x="318.7" y="198.75" textLength="41.6" lengthAdjust="spacingAndGlyphs">MAJ</text>
<rect x="319" y="211" width="56.3" height="116.94" fill="#74AB50"/>
<rect x="319" y="474.12" width="56.3" height="58.47" fill="#74AB50"/>
<rect x="319" y="678.76" width="56.3" height="58.47" fill="#74AB50"/>
<rect x="319" y="883.4" width="56.3" height="58.47" fill="#74AB50"/>
<rect x="319" y="1088.05" width="56.3" height="29.23" fill="#74AB50"/>
<path class="ln" d="M319 211h56.3M319 240.24h56.3M319 269.47h56.3M319 298.7h56.3M319 327.94h56.3M319 357.18h56.3M319 386.41h56.3M319 415.64h56.3M319 444.88h56.3M319 474.12h56.3M319 503.35h56.3M319 532.59h56.3M319 561.82h56.3M319 591.06h56.3M319 620.29h56.3M319 649.52h56.3M319 678.76h56.3M319 708h56.3M319 737.23h56.3M319 766.47h56.3M319 795.7h56.3M319 824.93h56.3M319 854.17h56.3M319 883.4h56.3M319 912.64h56.3M319 941.88h56.3M319 971.11h56.3M319 1000.35h56.3M319 1029.58h56.3M319 1058.82h56.3M319 1088.05h56.3M319 1117.28h56.3"/>
<text class="dn" x="320.4" y="226">1</text><text class="wd wg" x="320.7" y="236.7">Č</text>
<text class="dn" x="320.4" y="255.24">2</text><text class="wd wg" x="320.7" y="265.94">P</text>
<text class="dn" x="320.4" y="284.47">3</text><text class="wd wg" x="320.7" y="295.17">S</text>
<text class="dn" x="320.4" y="313.7">4</text><text class="wd wg" x="320.7" y="324.4">N</text>
<text class="dn" x="320.4" y="342.94">5</text><text class="wd" x="320.7" y="353.64">P</text>
<text class="dn" x="320.4" y="372.18">6</text><text class="wd" x="320.7" y="382.88">T</text>
<text class="dn" x="320.4" y="401.41">7</text><text class="wd" x="320.7" y="412.11">S</text>
<text class="dn" x="320.4" y="430.64">8</text><text class="wd" x="320.7" y="441.34">Č</text>
<text class="dn" x="320.4" y="459.88">9</text><text class="wd" x="320.7" y="470.58">P</text>
<text class="dn" x="320.4" y="489.12">10</text><text class="wd wg" x="320.7" y="499.81">S</text>
<text class="dn" x="320.4" y="518.35">11</text><text class="wd wg" x="320.7" y="529.05">N</text>
<text class="dn" x="320.4" y="547.59">12</text><text class="wd" x="320.7" y="558.29">P</text>
<text class="dn" x="320.4" y="576.82">13</text><text class="wd" x="320.7" y="587.52">T</text>
<text class="dn" x="320.4" y="606.06">14</text><text class="wd" x="320.7" y="616.76">S</text>
<text class="dn" x="320.4" y="635.29">15</text><text class="wd" x="320.7" y="645.99">Č</text>
<text class="dn" x="320.4" y="664.52">16</text><text class="wd" x="320.7" y="675.23">P</text>
<text class="dn" x="320.4" y="693.76">17</text><text class="wd wg" x="320.7" y="704.46">S</text>
<text class="dn" x="320.4" y="723">18</text><text class="wd wg" x="320.7" y="733.7">N</text>
<text class="dn" x="320.4" y="752.23">19</text><text class="wd" x="320.7" y="762.93">P</text>
<text class="dn" x="320.4" y="781.47">20</text><text class="wd" x="320.7" y="792.17">T</text>
<text class="dn" x="320.4" y="810.7">21</text><text class="wd" x="320.7" y="821.4">S</text>
<text class="dn" x="320.4" y="839.93">22</text><text class="wd" x="320.7" y="850.63">Č</text>
<text class="dn" x="320.4" y="869.17">23</text><text class="wd" x="320.7" y="879.87">P</text>
<text class="dn" x="320.4" y="898.4">24</text><text class="wd wg" x="320.7" y="909.11">S</text>
<text class="dn" x="320.4" y="927.64">25</text><text class="wd wg" x="320.7" y="938.34">N</text>
<text class="dn" x="320.4" y="956.88">26</text><text class="wd" x="320.7" y="967.58">P</text>
<text class="dn" x="320.4" y="986.11">27</text><text class="wd" x="320.7" y="996.81">T</text>
<text class="dn" x="320.4" y="1015.35">28</text><text class="wd" x="320.7" y="1026.05">S</text>
<text class="dn" x="320.4" y="1044.58">29</text><text class="wd" x="320.7" y="1055.28">Č</text>
<text class="dn" x="320.4" y="1073.82">30</text><text class="wd" x="320.7" y="1084.52">P</text>
<text class="dn" x="320.4" y="1103.05">31</text><text class="wd wg" x="320.7" y="1113.75">S</text>
</g>
<g class="month" id="m6">
<text class="mn" x="388.7" y="229.75" textLength="39.6" lengthAdjust="spacingAndGlyphs">JUN</text>
<rect x="389.3" y="241.5" width="56.3" height="29.24" fill="#E8B92F"/>
<rect x="389.3" y="416.91" width="56.3" height="58.47" fill="#E8B92F"/>
<rect x="389.3" y="621.56" width="56.3" height="58.47" fill="#E8B92F"/>
<rect x="389.3" y="826.2" width="56.3" height="58.47" fill="#E8B92F"/>
<rect x="389.3" y="943.14" width="56.3" height="29.24" fill="#E8B92F"/>
<rect x="389.3" y="1030.85" width="56.3" height="58.47" fill="#E8B92F"/>
<path class="ln" d="M389.3 241.5h56.3M389.3 270.74h56.3M389.3 299.97h56.3M389.3 329.2h56.3M389.3 358.44h56.3M389.3 387.68h56.3M389.3 416.91h56.3M389.3 446.14h56.3M389.3 475.38h56.3M389.3 504.62h56.3M389.3 533.85h56.3M389.3 563.09h56.3M389.3 592.32h56.3M389.3 621.56h56.3M389.3 650.79h56.3M389.3 680.02h56.3M389.3 709.26h56.3M389.3 738.5h56.3M389.3 767.73h56.3M389.3 796.97h56.3M389.3 826.2h56.3M389.3 855.43h56.3M389.3 884.67h56.3M389.3 913.9h56.3M389.3 943.14h56.3M389.3 972.38h56.3M389.3 1001.61h56.3M389.3 1030.85h56.3M389.3 1060.08h56.3M389.3 1089.32h56.3M389.3 1118.55h56.3"/>
<text class="dn" x="390.7" y="256.5">1</text><text class="wd wy" x="391" y="267.2">N</text>
<text class="dn" x="390.7" y="285.74">2</text><text class="wd" x="391" y="296.44">P</text>
<text class="dn" x="390.7" y="314.97">3</text><text class="wd" x="391" y="325.67">T</text>
<text class="dn" x="390.7" y="344.2">4</text><text class="wd" x="391" y="354.9">S</text>
<text class="dn" x="390.7" y="373.44">5</text><text class="wd" x="391" y="384.14">Č</text>
<text class="dn" x="390.7" y="402.68">6</text><text class="wd" x="391" y="413.38">P</text>
<text class="dn" x="390.7" y="431.91">7</text><text class="wd wy" x="391" y="442.61">S</text>
<text class="dn" x="390.7" y="461.14">8</text><text class="wd wy" x="391" y="471.84">N</text>
<text class="dn" x="390.7" y="490.38">9</text><text class="wd" x="391" y="501.08">P</text>
<text class="dn" x="390.7" y="519.62">10</text><text class="wd" x="391" y="530.32">T</text>
<text class="dn" x="390.7" y="548.85">11</text><text class="wd" x="391" y="559.55">S</text>
<text class="dn" x="390.7" y="578.09">12</text><text class="wd" x="391" y="588.79">Č</text>
<text class="dn" x="390.7" y="607.32">13</text><text class="wd" x="391" y="618.02">P</text>
<text class="dn" x="390.7" y="636.56">14</text><text class="wd wy" x="391" y="647.26">S</text>
<text class="dn" x="390.7" y="665.79">15</text><text class="wd wy" x="391" y="676.49">N</text>
<text class="dn" x="390.7" y="695.02">16</text><text class="wd" x="391" y="705.73">P</text>
<text class="dn" x="390.7" y="724.26">17</text><text class="wd" x="391" y="734.96">T</text>
<text class="dn" x="390.7" y="753.5">18</text><text class="wd" x="391" y="764.2">S</text>
<text class="dn" x="390.7" y="782.73">19</text><text class="wd" x="391" y="793.43">Č</text>
<text class="dn" x="390.7" y="811.97">20</text><text class="wd" x="391" y="822.67">P</text>
<text class="dn" x="390.7" y="841.2">21</text><text class="wd wy" x="391" y="851.9">S</text>
<text class="dn" x="390.7" y="870.43">22</text><text class="wd wy" x="391" y="881.13">N</text>
<text class="dn" x="390.7" y="899.67">23</text><text class="wd" x="391" y="910.37">P</text>
<text class="dn" x="390.7" y="928.9">24</text><text class="wd" x="391" y="939.61">T</text>
<text class="dn" x="390.7" y="958.14">25</text><text class="wd wy" x="391" y="968.84">S</text>
<text class="dn" x="390.7" y="987.38">26</text><text class="wd" x="391" y="998.08">Č</text>
<text class="dn" x="390.7" y="1016.61">27</text><text class="wd" x="391" y="1027.31">P</text>
<text class="dn" x="390.7" y="1045.85">28</text><text class="wd wy" x="391" y="1056.55">S</text>
<text class="dn" x="390.7" y="1075.08">29</text><text class="wd wy" x="391" y="1085.78">N</text>
<text class="dn" x="390.7" y="1104.32">30</text><text class="wd" x="391" y="1115.02">P</text>
</g>
<g class="month" id="m7">
<text class="mn" x="461.7" y="225" textLength="35.35" lengthAdjust="spacingAndGlyphs">JUL</text>
<rect x="459.5" y="352.44" width="56.3" height="58.47" fill="#E96338"/>
<rect x="459.5" y="557.09" width="56.3" height="58.47" fill="#E96338"/>
<rect x="459.5" y="761.73" width="56.3" height="58.47" fill="#E96338"/>
<rect x="459.5" y="966.38" width="56.3" height="58.47" fill="#E96338"/>
<path class="ln" d="M459.5 235.5h56.3M459.5 264.74h56.3M459.5 293.97h56.3M459.5 323.2h56.3M459.5 352.44h56.3M459.5 381.68h56.3M459.5 410.91h56.3M459.5 440.14h56.3M459.5 469.38h56.3M459.5 498.62h56.3M459.5 527.85h56.3M459.5 557.09h56.3M459.5 586.32h56.3M459.5 615.56h56.3M459.5 644.79h56.3M459.5 674.02h56.3M459.5 703.26h56.3M459.5 732.5h56.3M459.5 761.73h56.3M459.5 790.97h56.3M459.5 820.2h56.3M459.5 849.43h56.3M459.5 878.67h56.3M459.5 907.9h56.3M459.5 937.14h56.3M459.5 966.38h56.3M459.5 995.61h56.3M459.5 1024.85h56.3M459.5 1054.08h56.3M459.5 1083.32h56.3M459.5 1112.55h56.3M459.5 1141.78h56.3"/>
<text class="dn" x="460.9" y="250.5">1</text><text class="wd" x="461.2" y="261.2">T</text>
<text class="dn" x="460.9" y="279.74">2</text><text class="wd" x="461.2" y="290.44">S</text>
<text class="dn" x="460.9" y="308.97">3</text><text class="wd" x="461.2" y="319.67">Č</text>
<text class="dn" x="460.9" y="338.2">4</text><text class="wd" x="461.2" y="348.9">P</text>
<text class="dn" x="460.9" y="367.44">5</text><text class="wd wo" x="461.2" y="378.14">S</text>
<text class="dn" x="460.9" y="396.68">6</text><text class="wd wo" x="461.2" y="407.38">N</text>
<text class="dn" x="460.9" y="425.91">7</text><text class="wd" x="461.2" y="436.61">P</text>
<text class="dn" x="460.9" y="455.14">8</text><text class="wd" x="461.2" y="465.84">T</text>
<text class="dn" x="460.9" y="484.38">9</text><text class="wd" x="461.2" y="495.08">S</text>
<text class="dn" x="460.9" y="513.62">10</text><text class="wd" x="461.2" y="524.32">Č</text>
<text class="dn" x="460.9" y="542.85">11</text><text class="wd" x="461.2" y="553.55">P</text>
<text class="dn" x="460.9" y="572.09">12</text><text class="wd wo" x="461.2" y="582.79">S</text>
<text class="dn" x="460.9" y="601.32">13</text><text class="wd wo" x="461.2" y="612.02">N</text>
<text class="dn" x="460.9" y="630.56">14</text><text class="wd" x="461.2" y="641.26">P</text>
<text class="dn" x="460.9" y="659.79">15</text><text class="wd" x="461.2" y="670.49">T</text>
<text class="dn" x="460.9" y="689.02">16</text><text class="wd" x="461.2" y="699.73">S</text>
<text class="dn" x="460.9" y="718.26">17</text><text class="wd" x="461.2" y="728.96">Č</text>
<text class="dn" x="460.9" y="747.5">18</text><text class="wd" x="461.2" y="758.2">P</text>
<text class="dn" x="460.9" y="776.73">19</text><text class="wd wo" x="461.2" y="787.43">S</text>
<text class="dn" x="460.9" y="805.97">20</text><text class="wd wo" x="461.2" y="816.67">N</text>
<text class="dn" x="460.9" y="835.2">21</text><text class="wd" x="461.2" y="845.9">P</text>
<text class="dn" x="460.9" y="864.43">22</text><text class="wd" x="461.2" y="875.13">T</text>
<text class="dn" x="460.9" y="893.67">23</text><text class="wd" x="461.2" y="904.37">S</text>
<text class="dn" x="460.9" y="922.9">24</text><text class="wd" x="461.2" y="933.61">Č</text>
<text class="dn" x="460.9" y="952.14">25</text><text class="wd" x="461.2" y="962.84">P</text>
<text class="dn" x="460.9" y="981.38">26</text><text class="wd wo" x="461.2" y="992.08">S</text>
<text class="dn" x="460.9" y="1010.61">27</text><text class="wd wo" x="461.2" y="1021.31">N</text>
<text class="dn" x="460.9" y="1039.85">28</text><text class="wd" x="461.2" y="1050.55">P</text>
<text class="dn" x="460.9" y="1069.08">29</text><text class="wd" x="461.2" y="1079.78">T</text>
<text class="dn" x="460.9" y="1098.32">30</text><text class="wd" x="461.2" y="1109.02">S</text>
<text class="dn" x="460.9" y="1127.55">31</text><text class="wd" x="461.2" y="1138.25">Č</text>
</g>
<g class="month" id="m8">
<text class="mn" x="531.7" y="171" textLength="40.35" lengthAdjust="spacingAndGlyphs">AVG</text>
<rect x="530" y="214.44" width="56.3" height="58.47" fill="#8AACD5"/>
<rect x="530" y="419.08" width="56.3" height="58.47" fill="#8AACD5"/>
<rect x="530" y="594.49" width="56.3" height="87.7" fill="#8AACD5"/>
<rect x="530" y="828.37" width="56.3" height="58.47" fill="#8AACD5"/>
<rect x="530" y="1033.01" width="56.3" height="58.47" fill="#8AACD5"/>
<path class="ln" d="M530 185.2h56.3M530 214.44h56.3M530 243.67h56.3M530 272.9h56.3M530 302.14h56.3M530 331.38h56.3M530 360.61h56.3M530 389.84h56.3M530 419.08h56.3M530 448.31h56.3M530 477.55h56.3M530 506.78h56.3M530 536.02h56.3M530 565.25h56.3M530 594.49h56.3M530 623.72h56.3M530 652.96h56.3M530 682.19h56.3M530 711.43h56.3M530 740.66h56.3M530 769.9h56.3M530 799.13h56.3M530 828.37h56.3M530 857.61h56.3M530 886.84h56.3M530 916.08h56.3M530 945.31h56.3M530 974.55h56.3M530 1003.78h56.3M530 1033.01h56.3M530 1062.25h56.3M530 1091.48h56.3"/>
<text class="dn" x="531.4" y="200.2">1</text><text class="wd" x="531.7" y="210.9">P</text>
<text class="dn" x="531.4" y="229.44">2</text><text class="wd wb" x="531.7" y="240.13">S</text>
<text class="dn" x="531.4" y="258.67">3</text><text class="wd wb" x="531.7" y="269.37">N</text>
<text class="dn" x="531.4" y="287.9">4</text><text class="wd" x="531.7" y="298.6">P</text>
<text class="dn" x="531.4" y="317.14">5</text><text class="wd" x="531.7" y="327.84">T</text>
<text class="dn" x="531.4" y="346.38">6</text><text class="wd" x="531.7" y="357.07">S</text>
<text class="dn" x="531.4" y="375.61">7</text><text class="wd" x="531.7" y="386.31">Č</text>
<text class="dn" x="531.4" y="404.84">8</text><text class="wd" x="531.7" y="415.54">P</text>
<text class="dn" x="531.4" y="434.08">9</text><text class="wd wb" x="531.7" y="444.78">S</text>
<text class="dn" x="531.4" y="463.31">10</text><text class="wd wb" x="531.7" y="474.01">N</text>
<text class="dn" x="531.4" y="492.55">11</text><text class="wd" x="531.7" y="503.25">P</text>
<text class="dn" x="531.4" y="521.78">12</text><text class="wd" x="531.7" y="532.49">T</text>
<text class="dn" x="531.4" y="551.02">13</text><text class="wd" x="531.7" y="561.72">S</text>
<text class="dn" x="531.4" y="580.25">14</text><text class="wd" x="531.7" y="590.96">Č</text>
<text class="dn" x="531.4" y="609.49">15</text><text class="wd wb" x="531.7" y="620.19">P</text>
<text class="dn" x="531.4" y="638.72">16</text><text class="wd wb" x="531.7" y="649.42">S</text>
<text class="dn" x="531.4" y="667.96">17</text><text class="wd wb" x="531.7" y="678.66">N</text>
<text class="dn" x="531.4" y="697.19">18</text><text class="wd" x="531.7" y="707.89">P</text>
<text class="dn" x="531.4" y="726.43">19</text><text class="wd" x="531.7" y="737.13">T</text>
<text class="dn" x="531.4" y="755.66">20</text><text class="wd" x="531.7" y="766.37">S</text>
<text class="dn" x="531.4" y="784.9">21</text><text class="wd" x="531.7" y="795.6">Č</text>
<text class="dn" x="531.4" y="814.13">22</text><text class="wd" x="531.7" y="824.84">P</text>
<text class="dn" x="531.4" y="843.37">23</text><text class="wd wb" x="531.7" y="854.07">S</text>
<text class="dn" x="531.4" y="872.61">24</text><text class="wd wb" x="531.7" y="883.31">N</text>
<text class="dn" x="531.4" y="901.84">25</text><text class="wd" x="531.7" y="912.54">P</text>
<text class="dn" x="531.4" y="931.08">26</text><text class="wd" x="531.7" y="941.78">T</text>
<text class="dn" x="531.4" y="960.31">27</text><text class="wd" x="531.7" y="971.01">S</text>
<text class="dn" x="531.4" y="989.55">28</text><text class="wd" x="531.7" y="1000.25">Č</text>
<text class="dn" x="531.4" y="1018.78">29</text><text class="wd" x="531.7" y="1029.48">P</text>
<text class="dn" x="531.4" y="1048.01">30</text><text class="wd wb" x="531.7" y="1058.71">S</text>
<text class="dn" x="531.4" y="1077.25">31</text><text class="wd wb" x="531.7" y="1087.95">N</text>
</g>
<g class="month" id="m9">
<text class="mn" x="601.2" y="193.6" textLength="35.85" lengthAdjust="spacingAndGlyphs">SEP</text>
<rect x="600.5" y="351.18" width="56.3" height="58.47" fill="#74AB50"/>
<rect x="600.5" y="555.82" width="56.3" height="58.47" fill="#74AB50"/>
<rect x="600.5" y="760.47" width="56.3" height="58.47" fill="#74AB50"/>
<rect x="600.5" y="965.11" width="56.3" height="58.47" fill="#74AB50"/>
<path class="ln" d="M600.5 205h56.3M600.5 234.24h56.3M600.5 263.47h56.3M600.5 292.7h56.3M600.5 321.94h56.3M600.5 351.18h56.3M600.5 380.41h56.3M600.5 409.64h56.3M600.5 438.88h56.3M600.5 468.12h56.3M600.5 497.35h56.3M600.5 526.59h56.3M600.5 555.82h56.3M600.5 585.06h56.3M600.5 614.29h56.3M600.5 643.52h56.3M600.5 672.76h56.3M600.5 702h56.3M600.5 731.23h56.3M600.5 760.47h56.3M600.5 789.7h56.3M600.5 818.93h56.3M600.5 848.17h56.3M600.5 877.4h56.3M600.5 906.64h56.3M600.5 935.88h56.3M600.5 965.11h56.3M600.5 994.35h56.3M600.5 1023.58h56.3M600.5 1052.82h56.3M600.5 1082.05h56.3"/>
<text class="dn" x="601.9" y="220">1</text><text class="wd" x="602.2" y="230.7">P</text>
<text class="dn" x="601.9" y="249.24">2</text><text class="wd" x="602.2" y="259.94">T</text>
<text class="dn" x="601.9" y="278.47">3</text><text class="wd" x="602.2" y="289.17">S</text>
<text class="dn" x="601.9" y="307.7">4</text><text class="wd" x="602.2" y="318.4">Č</text>
<text class="dn" x="601.9" y="336.94">5</text><text class="wd" x="602.2" y="347.64">P</text>
<text class="dn" x="601.9" y="366.18">6</text><text class="wd wg" x="602.2" y="376.88">S</text>
<text class="dn" x="601.9" y="395.41">7</text><text class="wd wg" x="602.2" y="406.11">N</text>
<text class="dn" x="601.9" y="424.64">8</text><text class="wd" x="602.2" y="435.34">P</text>
<text class="dn" x="601.9" y="453.88">9</text><text class="wd" x="602.2" y="464.58">T</text>
<text class="dn" x="601.9" y="483.12">10</text><text class="wd" x="602.2" y="493.81">S</text>
<text class="dn" x="601.9" y="512.35">11</text><text class="wd" x="602.2" y="523.05">Č</text>
<text class="dn" x="601.9" y="541.59">12</text><text class="wd" x="602.2" y="552.29">P</text>
<text class="dn" x="601.9" y="570.82">13</text><text class="wd wg" x="602.2" y="581.52">S</text>
<text class="dn" x="601.9" y="600.06">14</text><text class="wd wg" x="602.2" y="610.76">N</text>
<text class="dn" x="601.9" y="629.29">15</text><text class="wd" x="602.2" y="639.99">P</text>
<text class="dn" x="601.9" y="658.52">16</text><text class="wd" x="602.2" y="669.23">T</text>
<text class="dn" x="601.9" y="687.76">17</text><text class="wd" x="602.2" y="698.46">S</text>
<text class="dn" x="601.9" y="717">18</text><text class="wd" x="602.2" y="727.7">Č</text>
<text class="dn" x="601.9" y="746.23">19</text><text class="wd" x="602.2" y="756.93">P</text>
<text class="dn" x="601.9" y="775.47">20</text><text class="wd wg" x="602.2" y="786.17">S</text>
<text class="dn" x="601.9" y="804.7">21</text><text class="wd wg" x="602.2" y="815.4">N</text>
<text class="dn" x="601.9" y="833.93">22</text><text class="wd" x="602.2" y="844.63">P</text>
<text class="dn" x="601.9" y="863.17">23</text><text class="wd" x="602.2" y="873.87">T</text>
<text class="dn" x="601.9" y="892.4">24</text><text class="wd" x="602.2" y="903.11">S</text>
<text class="dn" x="601.9" y="921.64">25</text><text class="wd" x="602.2" y="932.34">Č</text>
<text class="dn" x="601.9" y="950.88">26</text><text class="wd" x="602.2" y="961.58">P</text>
<text class="dn" x="601.9" y="980.11">27</text><text class="wd wg" x="602.2" y="990.81">S</text>
<text class="dn" x="601.9" y="1009.35">28</text><text class="wd wg" x="602.2" y="1020.05">N</text>
<text class="dn" x="601.9" y="1038.58">29</text><text class="wd" x="602.2" y="1049.28">P</text>
<text class="dn" x="601.9" y="1067.82">30</text><text class="wd" x="602.2" y="1078.52">T</text>
</g>
<g class="month" id="m10">
<text class="mn" x="671.7" y="169.25" textLength="40.35" lengthAdjust="spacingAndGlyphs">OKT</text>
<rect x="670.75" y="269.11" width="56.3" height="58.47" fill="#E8B92F"/>
<rect x="670.75" y="473.75" width="56.3" height="58.47" fill="#E8B92F"/>
<rect x="670.75" y="678.39" width="56.3" height="58.47" fill="#E8B92F"/>
<rect x="670.75" y="883.04" width="56.3" height="58.47" fill="#E8B92F"/>
<rect x="670.75" y="1058.45" width="56.3" height="29.23" fill="#E8B92F"/>
<path class="ln" d="M670.75 181.4h56.3M670.75 210.63h56.3M670.75 239.87h56.3M670.75 269.11h56.3M670.75 298.34h56.3M670.75 327.58h56.3M670.75 356.81h56.3M670.75 386.04h56.3M670.75 415.28h56.3M670.75 444.51h56.3M670.75 473.75h56.3M670.75 502.99h56.3M670.75 532.22h56.3M670.75 561.46h56.3M670.75 590.69h56.3M670.75 619.92h56.3M670.75 649.16h56.3M670.75 678.39h56.3M670.75 707.63h56.3M670.75 736.87h56.3M670.75 766.1h56.3M670.75 795.33h56.3M670.75 824.57h56.3M670.75 853.8h56.3M670.75 883.04h56.3M670.75 912.27h56.3M670.75 941.51h56.3M670.75 970.75h56.3M670.75 999.98h56.3M670.75 1029.21h56.3M670.75 1058.45h56.3M670.75 1087.68h56.3"/>
<text class="dn" x="672.15" y="196.4">1</text><text class="wd" x="672.45" y="207.1">S</text>
<text class="dn" x="672.15" y="225.63">2</text><text class="wd" x="672.45" y="236.33">Č</text>
<text class="dn" x="672.15" y="254.87">3</text><text class="wd" x="672.45" y="265.57">P</text>
<text class="dn" x="672.15" y="284.11">4</text><text class="wd wy" x="672.45" y="294.81">S</text>
<text class="dn" x="672.15" y="313.34">5</text><text class="wd wy" x="672.45" y="324.04">N</text>
<text class="dn" x="672.15" y="342.58">6</text><text class="wd" x="672.45" y="353.28">P</text>
<text class="dn" x="672.15" y="371.81">7</text><text class="wd" x="672.45" y="382.51">T</text>
<text class="dn" x="672.15" y="401.04">8</text><text class="wd" x="672.45" y="411.74">S</text>
<text class="dn" x="672.15" y="430.28">9</text><text class="wd" x="672.45" y="440.98">Č</text>
<text class="dn" x="672.15" y="459.51">10</text><text class="wd" x="672.45" y="470.21">P</text>
<text class="dn" x="672.15" y="488.75">11</text><text class="wd wy" x="672.45" y="499.45">S</text>
<text class="dn" x="672.15" y="517.99">12</text><text class="wd wy" x="672.45" y="528.69">N</text>
<text class="dn" x="672.15" y="547.22">13</text><text class="wd" x="672.45" y="557.92">P</text>
<text class="dn" x="672.15" y="576.46">14</text><text class="wd" x="672.45" y="587.16">T</text>
<text class="dn" x="672.15" y="605.69">15</text><text class="wd" x="672.45" y="616.39">S</text>
<text class="dn" x="672.15" y="634.92">16</text><text class="wd" x="672.45" y="645.62">Č</text>
<text class="dn" x="672.15" y="664.16">17</text><text class="wd" x="672.45" y="674.86">P</text>
<text class="dn" x="672.15" y="693.39">18</text><text class="wd wy" x="672.45" y="704.1">S</text>
<text class="dn" x="672.15" y="722.63">19</text><text class="wd wy" x="672.45" y="733.33">N</text>
<text class="dn" x="672.15" y="751.87">20</text><text class="wd" x="672.45" y="762.57">P</text>
<text class="dn" x="672.15" y="781.1">21</text><text class="wd" x="672.45" y="791.8">T</text>
<text class="dn" x="672.15" y="810.33">22</text><text class="wd" x="672.45" y="821.03">S</text>
<text class="dn" x="672.15" y="839.57">23</text><text class="wd" x="672.45" y="850.27">Č</text>
<text class="dn" x="672.15" y="868.8">24</text><text class="wd" x="672.45" y="879.5">P</text>
<text class="dn" x="672.15" y="898.04">25</text><text class="wd wy" x="672.45" y="908.74">S</text>
<text class="dn" x="672.15" y="927.27">26</text><text class="wd wy" x="672.45" y="937.98">N</text>
<text class="dn" x="672.15" y="956.51">27</text><text class="wd" x="672.45" y="967.21">P</text>
<text class="dn" x="672.15" y="985.75">28</text><text class="wd" x="672.45" y="996.45">T</text>
<text class="dn" x="672.15" y="1014.98">29</text><text class="wd" x="672.45" y="1025.68">S</text>
<text class="dn" x="672.15" y="1044.21">30</text><text class="wd" x="672.45" y="1054.91">Č</text>
<text class="dn" x="672.15" y="1073.45">31</text><text class="wd wy" x="672.45" y="1084.15">P</text>
</g>
<g class="month" id="m11">
<text class="mn" x="742.95" y="193.25" textLength="42.85" lengthAdjust="spacingAndGlyphs">NOV</text>
<rect x="741.25" y="205.2" width="56.3" height="58.47" fill="#E96338"/>
<rect x="741.25" y="409.84" width="56.3" height="58.47" fill="#E96338"/>
<rect x="741.25" y="614.49" width="56.3" height="58.47" fill="#E96338"/>
<rect x="741.25" y="819.13" width="56.3" height="58.47" fill="#E96338"/>
<rect x="741.25" y="1023.78" width="56.3" height="58.47" fill="#E96338"/>
<path class="ln" d="M741.25 205.2h56.3M741.25 234.44h56.3M741.25 263.67h56.3M741.25 292.9h56.3M741.25 322.14h56.3M741.25 351.38h56.3M741.25 380.61h56.3M741.25 409.84h56.3M741.25 439.08h56.3M741.25 468.31h56.3M741.25 497.55h56.3M741.25 526.78h56.3M741.25 556.02h56.3M741.25 585.25h56.3M741.25 614.49h56.3M741.25 643.72h56.3M741.25 672.96h56.3M741.25 702.19h56.3M741.25 731.43h56.3M741.25 760.66h56.3M741.25 789.9h56.3M741.25 819.13h56.3M741.25 848.37h56.3M741.25 877.61h56.3M741.25 906.84h56.3M741.25 936.08h56.3M741.25 965.31h56.3M741.25 994.55h56.3M741.25 1023.78h56.3M741.25 1053.01h56.3M741.25 1082.25h56.3"/>
<text class="dn" x="742.65" y="220.2">1</text><text class="wd wo" x="742.95" y="230.9">S</text>
<text class="dn" x="742.65" y="249.44">2</text><text class="wd wo" x="742.95" y="260.13">N</text>
<text class="dn" x="742.65" y="278.67">3</text><text class="wd" x="742.95" y="289.37">P</text>
<text class="dn" x="742.65" y="307.9">4</text><text class="wd" x="742.95" y="318.6">T</text>
<text class="dn" x="742.65" y="337.14">5</text><text class="wd" x="742.95" y="347.84">S</text>
<text class="dn" x="742.65" y="366.38">6</text><text class="wd" x="742.95" y="377.07">Č</text>
<text class="dn" x="742.65" y="395.61">7</text><text class="wd" x="742.95" y="406.31">P</text>
<text class="dn" x="742.65" y="424.84">8</text><text class="wd wo" x="742.95" y="435.54">S</text>
<text class="dn" x="742.65" y="454.08">9</text><text class="wd wo" x="742.95" y="464.78">N</text>
<text class="dn" x="742.65" y="483.31">10</text><text class="wd" x="742.95" y="494.01">P</text>
<text class="dn" x="742.65" y="512.55">11</text><text class="wd" x="742.95" y="523.25">T</text>
<text class="dn" x="742.65" y="541.78">12</text><text class="wd" x="742.95" y="552.49">S</text>
<text class="dn" x="742.65" y="571.02">13</text><text class="wd" x="742.95" y="581.72">Č</text>
<text class="dn" x="742.65" y="600.25">14</text><text class="wd" x="742.95" y="610.96">P</text>
<text class="dn" x="742.65" y="629.49">15</text><text class="wd wo" x="742.95" y="640.19">S</text>
<text class="dn" x="742.65" y="658.72">16</text><text class="wd wo" x="742.95" y="669.42">N</text>
<text class="dn" x="742.65" y="687.96">17</text><text class="wd" x="742.95" y="698.66">P</text>
<text class="dn" x="742.65" y="717.19">18</text><text class="wd" x="742.95" y="727.89">T</text>
<text class="dn" x="742.65" y="746.43">19</text><text class="wd" x="742.95" y="757.13">S</text>
<text class="dn" x="742.65" y="775.66">20</text><text class="wd" x="742.95" y="786.37">Č</text>
<text class="dn" x="742.65" y="804.9">21</text><text class="wd" x="742.95" y="815.6">P</text>
<text class="dn" x="742.65" y="834.13">22</text><text class="wd wo" x="742.95" y="844.84">S</text>
<text class="dn" x="742.65" y="863.37">23</text><text class="wd wo" x="742.95" y="874.07">N</text>
<text class="dn" x="742.65" y="892.61">24</text><text class="wd" x="742.95" y="903.31">P</text>
<text class="dn" x="742.65" y="921.84">25</text><text class="wd" x="742.95" y="932.54">T</text>
<text class="dn" x="742.65" y="951.08">26</text><text class="wd" x="742.95" y="961.78">S</text>
<text class="dn" x="742.65" y="980.31">27</text><text class="wd" x="742.95" y="991.01">Č</text>
<text class="dn" x="742.65" y="1009.55">28</text><text class="wd" x="742.95" y="1020.25">P</text>
<text class="dn" x="742.65" y="1038.78">29</text><text class="wd wo" x="742.95" y="1049.48">S</text>
<text class="dn" x="742.65" y="1068.01">30</text><text class="wd wo" x="742.95" y="1078.71">N</text>
</g>
<g class="month" id="m12">
<text class="mn" x="811.2" y="187.4" textLength="39.6" lengthAdjust="spacingAndGlyphs">DEC</text>
<rect x="811.25" y="345.18" width="56.3" height="58.47" fill="#8AACD5"/>
<rect x="811.25" y="549.82" width="56.3" height="58.47" fill="#8AACD5"/>
<rect x="811.25" y="754.47" width="56.3" height="58.47" fill="#8AACD5"/>
<rect x="811.25" y="900.64" width="56.3" height="116.94" fill="#8AACD5"/>
<path class="ln" d="M811.25 199h56.3M811.25 228.24h56.3M811.25 257.47h56.3M811.25 286.7h56.3M811.25 315.94h56.3M811.25 345.18h56.3M811.25 374.41h56.3M811.25 403.64h56.3M811.25 432.88h56.3M811.25 462.12h56.3M811.25 491.35h56.3M811.25 520.59h56.3M811.25 549.82h56.3M811.25 579.06h56.3M811.25 608.29h56.3M811.25 637.52h56.3M811.25 666.76h56.3M811.25 696h56.3M811.25 725.23h56.3M811.25 754.47h56.3M811.25 783.7h56.3M811.25 812.93h56.3M811.25 842.17h56.3M811.25 871.4h56.3M811.25 900.64h56.3M811.25 929.88h56.3M811.25 959.11h56.3M811.25 988.35h56.3M811.25 1017.58h56.3M811.25 1046.82h56.3M811.25 1076.05h56.3M811.25 1105.28h56.3"/>
<text class="dn" x="812.65" y="214">1</text><text class="wd" x="812.95" y="224.7">P</text>
<text class="dn" x="812.65" y="243.24">2</text><text class="wd" x="812.95" y="253.94">T</text>
<text class="dn" x="812.65" y="272.47">3</text><text class="wd" x="812.95" y="283.17">S</text>
<text class="dn" x="812.65" y="301.7">4</text><text class="wd" x="812.95" y="312.4">Č</text>
<text class="dn" x="812.65" y="330.94">5</text><text class="wd" x="812.95" y="341.64">P</text>
<text class="dn" x="812.65" y="360.18">6</text><text class="wd wb" x="812.95" y="370.88">S</text>
<text class="dn" x="812.65" y="389.41">7</text><text class="wd wb" x="812.95" y="400.11">N</text>
<text class="dn" x="812.65" y="418.64">8</text><text class="wd" x="812.95" y="429.34">P</text>
<text class="dn" x="812.65" y="447.88">9</text><text class="wd" x="812.95" y="458.58">T</text>
<text class="dn" x="812.65" y="477.12">10</text><text class="wd" x="812.95" y="487.81">S</text>
<text class="dn" x="812.65" y="506.35">11</text><text class="wd" x="812.95" y="517.05">Č</text>
<text class="dn" x="812.65" y="535.59">12</text><text class="wd" x="812.95" y="546.29">P</text>
<text class="dn" x="812.65" y="564.82">13</text><text class="wd wb" x="812.95" y="575.52">S</text>
<text class="dn" x="812.65" y="594.06">14</text><text class="wd wb" x="812.95" y="604.76">N</text>
<text class="dn" x="812.65" y="623.29">15</text><text class="wd" x="812.95" y="633.99">P</text>
<text class="dn" x="812.65" y="652.52">16</text><text class="wd" x="812.95" y="663.23">T</text>
<text class="dn" x="812.65" y="681.76">17</text><text class="wd" x="812.95" y="692.46">S</text>
<text class="dn" x="812.65" y="711">18</text><text class="wd" x="812.95" y="721.7">Č</text>
<text class="dn" x="812.65" y="740.23">19</text><text class="wd" x="812.95" y="750.93">P</text>
<text class="dn" x="812.65" y="769.47">20</text><text class="wd wb" x="812.95" y="780.17">S</text>
<text class="dn" x="812.65" y="798.7">21</text><text class="wd wb" x="812.95" y="809.4">N</text>
<text class="dn" x="812.65" y="827.93">22</text><text class="wd" x="812.95" y="838.63">P</text>
<text class="dn" x="812.65" y="857.17">23</text><text class="wd" x="812.95" y="867.87">T</text>
<text class="dn" x="812.65" y="886.4">24</text><text class="wd" x="812.95" y="897.11">S</text>
<text class="dn" x="812.65" y="915.64">25</text><text class="wd wb" x="812.95" y="926.34">Č</text>
<text class="dn" x="812.65" y="944.88">26</text><text class="wd wb" x="812.95" y="955.58">P</text>
<text class="dn" x="812.65" y="974.11">27</text><text class="wd wb" x="812.95" y="984.81">S</text>
<text class="dn" x="812.65" y="1003.35">28</text><text class="wd wb" x="812.95" y="1014.05">N</text>
<text class="dn" x="812.65" y="1032.58">29</text><text class="wd" x="812.95" y="1043.28">P</text>
<text class="dn" x="812.65" y="1061.82">30</text><text class="wd" x="812.95" y="1072.52">T</text>
<text class="dn" x="812.65" y="1091.05">31</text><text class="wd" x="812.95" y="1101.75">S</text>
</g>
<g id="footer-text">
<text x="183" y="1165" stroke="#161616" stroke-width="0.5" style="font-weight:700;font-size:26.5px" textLength="169" lengthAdjust="spacingAndGlyphs">www.lmit.org</text>
<text x="184" y="1180.8" style="font-size:11.6px;fill:#222" textLength="104.5" lengthAdjust="spacingAndGlyphs">Informacije za mlade</text>
<text x="705" y="1182.4" style="font-weight:700;font-size:8.8px" textLength="101" lengthAdjust="spacingAndGlyphs">Ljubljanska mreža info točk</text>
</g>

<g id="logo">
<rect x="756.3" y="1159.2" width="29" height="6.2" rx="3" fill="#8b8786"/>
<circle cx="775.2" cy="1117" r="4.8" fill="#8b8786"/>
<text x="717.5" y="1166" style="font-family:'Liberation Serif',serif;font-weight:700;font-size:52px" textLength="36" lengthAdjust="spacingAndGlyphs">L</text>
<text x="736" y="1143.5" style="font-family:'Liberation Serif',serif;font-weight:700;font-size:15px">'</text>
<text x="740.5" y="1146.3" style="font-family:'Liberation Serif',serif;font-weight:700;font-style:italic;font-size:25px" textLength="24" lengthAdjust="spacingAndGlyphs">m</text>
<clipPath id="cpI"><rect x="750" y="1122" width="45" height="50"/></clipPath>
<g clip-path="url(#cpI)"><text x="760.6" y="1165.5" style="font-family:'Liberation Serif',serif;font-weight:400;font-size:87px;fill:#8b8786" textLength="28" lengthAdjust="spacingAndGlyphs">i</text></g>
<text x="778" y="1151.3" style="font-family:'Liberation Serif',serif;font-weight:700;font-style:italic;font-size:39px" textLength="14" lengthAdjust="spacingAndGlyphs">t</text>
</g>

</svg>
</body>
</html>
